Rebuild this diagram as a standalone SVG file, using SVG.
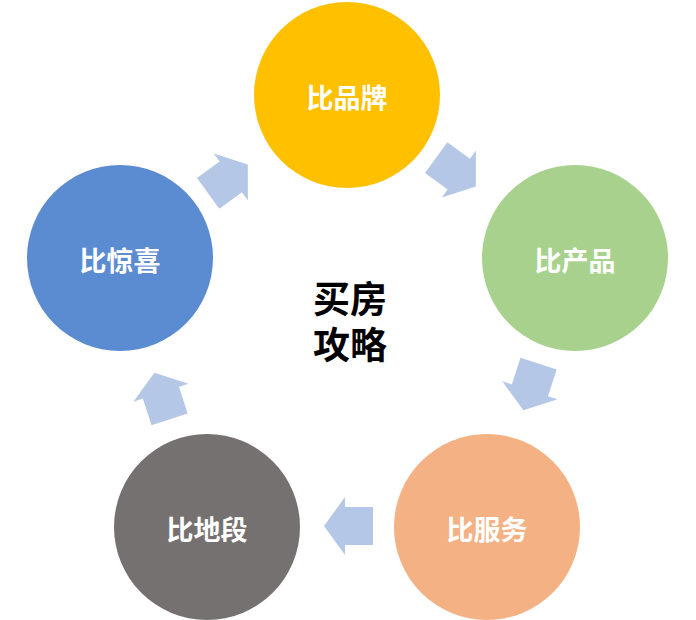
<svg xmlns="http://www.w3.org/2000/svg" width="696" height="620" viewBox="0 0 696 620">
<style>
.lbl{font-family:"Noto Sans CJK SC","Noto Sans",sans-serif;font-weight:bold;font-size:27px;fill:#fff;text-anchor:middle;dominant-baseline:central}
.ctr{font-family:"Liberation Sans","Noto Sans CJK SC",sans-serif;font-weight:bold;font-size:37px;fill:#000;text-anchor:middle}
.arr{fill:#B4C7E7}
</style>
<defs>
<polygon id="ar" points="-24.5,-19 3.5,-19 3.5,-29 24.5,0 3.5,29 3.5,19 -24.5,19"/>
</defs>
<rect width="696" height="620" fill="#fff"/>
<g id="connectors">
<use href="#ar" class="arr" transform="translate(228,179) rotate(-36)"/>
<use href="#ar" class="arr" transform="translate(456,172) rotate(36)"/>
<use href="#ar" class="arr" transform="translate(531,387) rotate(108)"/>
<use href="#ar" class="arr" transform="translate(348.5,526) rotate(180)"/>
<use href="#ar" class="arr" transform="translate(162,396) rotate(-108)"/>
</g>
<g id="brand"><circle cx="347" cy="95" r="93" fill="#FFC000"/><text class="lbl" x="347" y="96">比品牌</text></g>
<g id="product"><circle cx="575" cy="258" r="93" fill="#A9D18E"/><text class="lbl" x="575" y="259">比产品</text></g>
<g id="service"><circle cx="487" cy="527" r="93" fill="#F4B183"/><text class="lbl" x="487" y="528">比服务</text></g>
<g id="location"><circle cx="207" cy="527" r="93" fill="#767171"/><text class="lbl" x="207" y="528">比地段</text></g>
<g id="surprise"><circle cx="120" cy="258" r="93" fill="#5B8BD0"/><text class="lbl" x="120" y="259">比惊喜</text></g>
<g id="center"><text class="ctr" x="350" y="313">买房</text><text class="ctr" x="350" y="359">攻略</text></g>
</svg>
